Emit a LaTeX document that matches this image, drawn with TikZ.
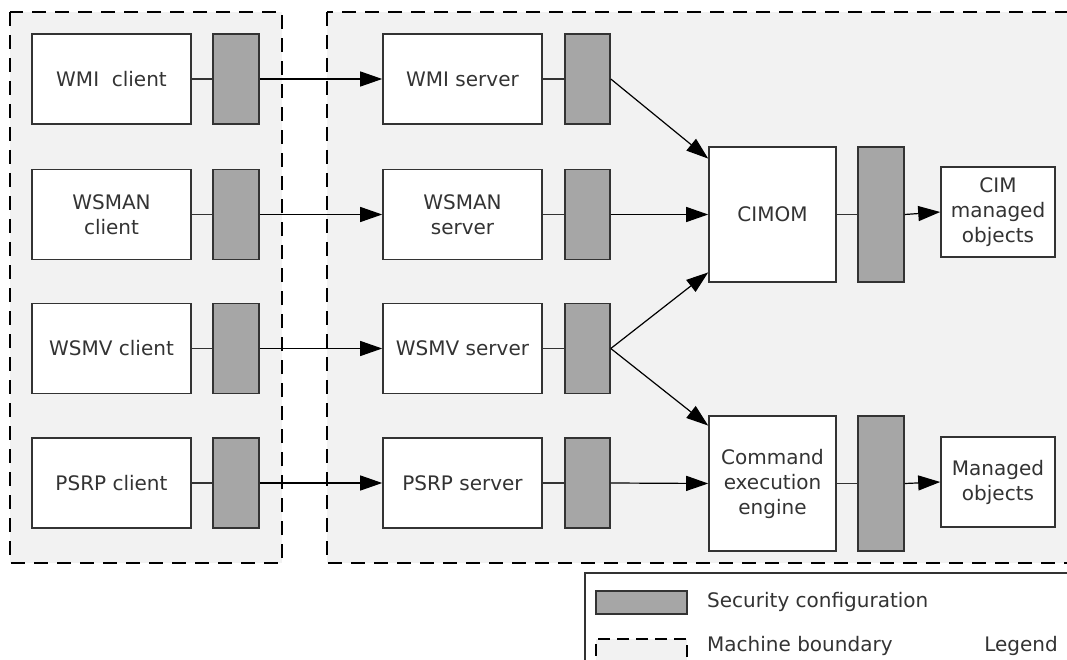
\documentclass[tikz,border=0pt]{standalone}
\usepackage{fontspec}
\setmainfont{DejaVu Sans}
\usetikzlibrary{arrows.meta}
\definecolor{bgfill}{HTML}{F2F2F2}
\definecolor{secfill}{HTML}{A6A6A6}
\definecolor{edge}{HTML}{333333}
\definecolor{txt}{HTML}{333333}
\begin{document}
\begin{tikzpicture}[x=1pt,y=-1pt,
  font=\fontsize{20}{25}\selectfont,
  boundary/.style={draw=black,fill=bgfill,line width=1.8pt,dash pattern=on 14pt off 9pt},
  box/.style={draw=edge,fill=white,line width=1.6pt,inner sep=0pt,text=txt,align=center,minimum width=159pt,minimum height=90pt},
  secbox/.style={draw=edge,fill=secfill,line width=1.6pt,inner sep=0pt,minimum width=46pt,minimum height=90pt},
  conn/.style={draw=black,line width=1.2pt},
  arr/.style={conn,-{Triangle[length=22pt,width=15pt]}},
  link/.style={draw=edge,line width=1.2pt}
]
\useasboundingbox (0,0) rectangle (1067,660);
% machine boundaries
\path[boundary] (10,12) rectangle (282,563);
\path[boundary] (327,12) rectangle (1090,563);

% clients
\node[box] (c1) at (111.5,79) {WMI\ \ client};
\node[box] (c2) at (111.5,214.5) {WSMAN\\client};
\node[box] (c3) at (111.5,348.5) {WSMV client};
\node[box] (c4) at (111.5,483) {PSRP client};
\node[secbox] (cs1) at (236,79) {};
\node[secbox] (cs2) at (236,214.5) {};
\node[secbox] (cs3) at (236,348.5) {};
\node[secbox] (cs4) at (236,483) {};

% servers
\node[box] (s1) at (462.5,79) {WMI server};
\node[box] (s2) at (462.5,214.5) {WSMAN\\server};
\node[box] (s3) at (462.5,348.5) {WSMV server};
\node[box] (s4) at (462.5,483) {PSRP server};
\node[secbox,minimum width=45pt] (ss1) at (587.5,79) {};
\node[secbox,minimum width=45pt] (ss2) at (587.5,214.5) {};
\node[secbox,minimum width=45pt] (ss3) at (587.5,348.5) {};
\node[secbox,minimum width=45pt] (ss4) at (587.5,483) {};

% core
\node[box,minimum width=127pt,minimum height=135pt] (cimom) at (772.5,214.5) {CIMOM};
\node[secbox,minimum height=135pt] (cms) at (881,214.5) {};
\node[box,minimum width=114pt] (cim) at (998,212) {CIM\\managed\\objects};
\node[box,minimum width=127pt,minimum height=135pt] (cmd) at (772.5,483.5) {Command\\execution\\engine};
\node[secbox,minimum height=135pt] (cmds) at (881,483.5) {};
\node[box,minimum width=114pt] (mo) at (998,482) {Managed\\objects};

% client links
\foreach \i in {1,2,3,4}{
  \draw[link] (c\i.east) -- (cs\i.west);
  \draw[arr] (cs\i.east) -- (s\i.west);
  \draw[link] (s\i.east) -- (ss\i.west);
}
\draw[arr] (ss1.east) -- (cimom.139);
\draw[arr] (ss2.east) -- (cimom.west);
\draw[arr] (ss3.east) -- (cimom.222);
\draw[arr] (ss3.east) -- (cmd.138);
\draw[arr] (ss4.east) -- (cmd.west);
\draw[link] (cimom.east) -- (cms.west);
\draw[arr] (cms.east) -- (cim.west);
\draw[link] (cmd.east) -- (cmds.west);
\draw[arr] (cmds.east) -- (mo.west);

% legend
\draw[draw=edge,fill=white,line width=1.2pt] (585,573) rectangle (1090,680);
\node[draw=edge,fill=secfill,line width=1.6pt,inner sep=0pt,minimum width=91pt,minimum height=23pt] (lsec) at (641.5,602.5) {};
\node[draw=black,fill=bgfill,line width=1.6pt,dash pattern=on 12pt off 7pt,inner sep=0pt,minimum width=91pt,minimum height=22pt] (lbnd) at (641.5,650) {};
\node[anchor=west,text=txt,inner sep=0pt] (lt1) at (707,602) {Security configuration};
\node[anchor=west,text=txt,inner sep=0pt] (lt2) at (707,646) {Machine boundary};
\node[anchor=east,text=txt,inner sep=0pt] (lt3) at (1058,646) {Legend};
\end{tikzpicture}
\end{document}
